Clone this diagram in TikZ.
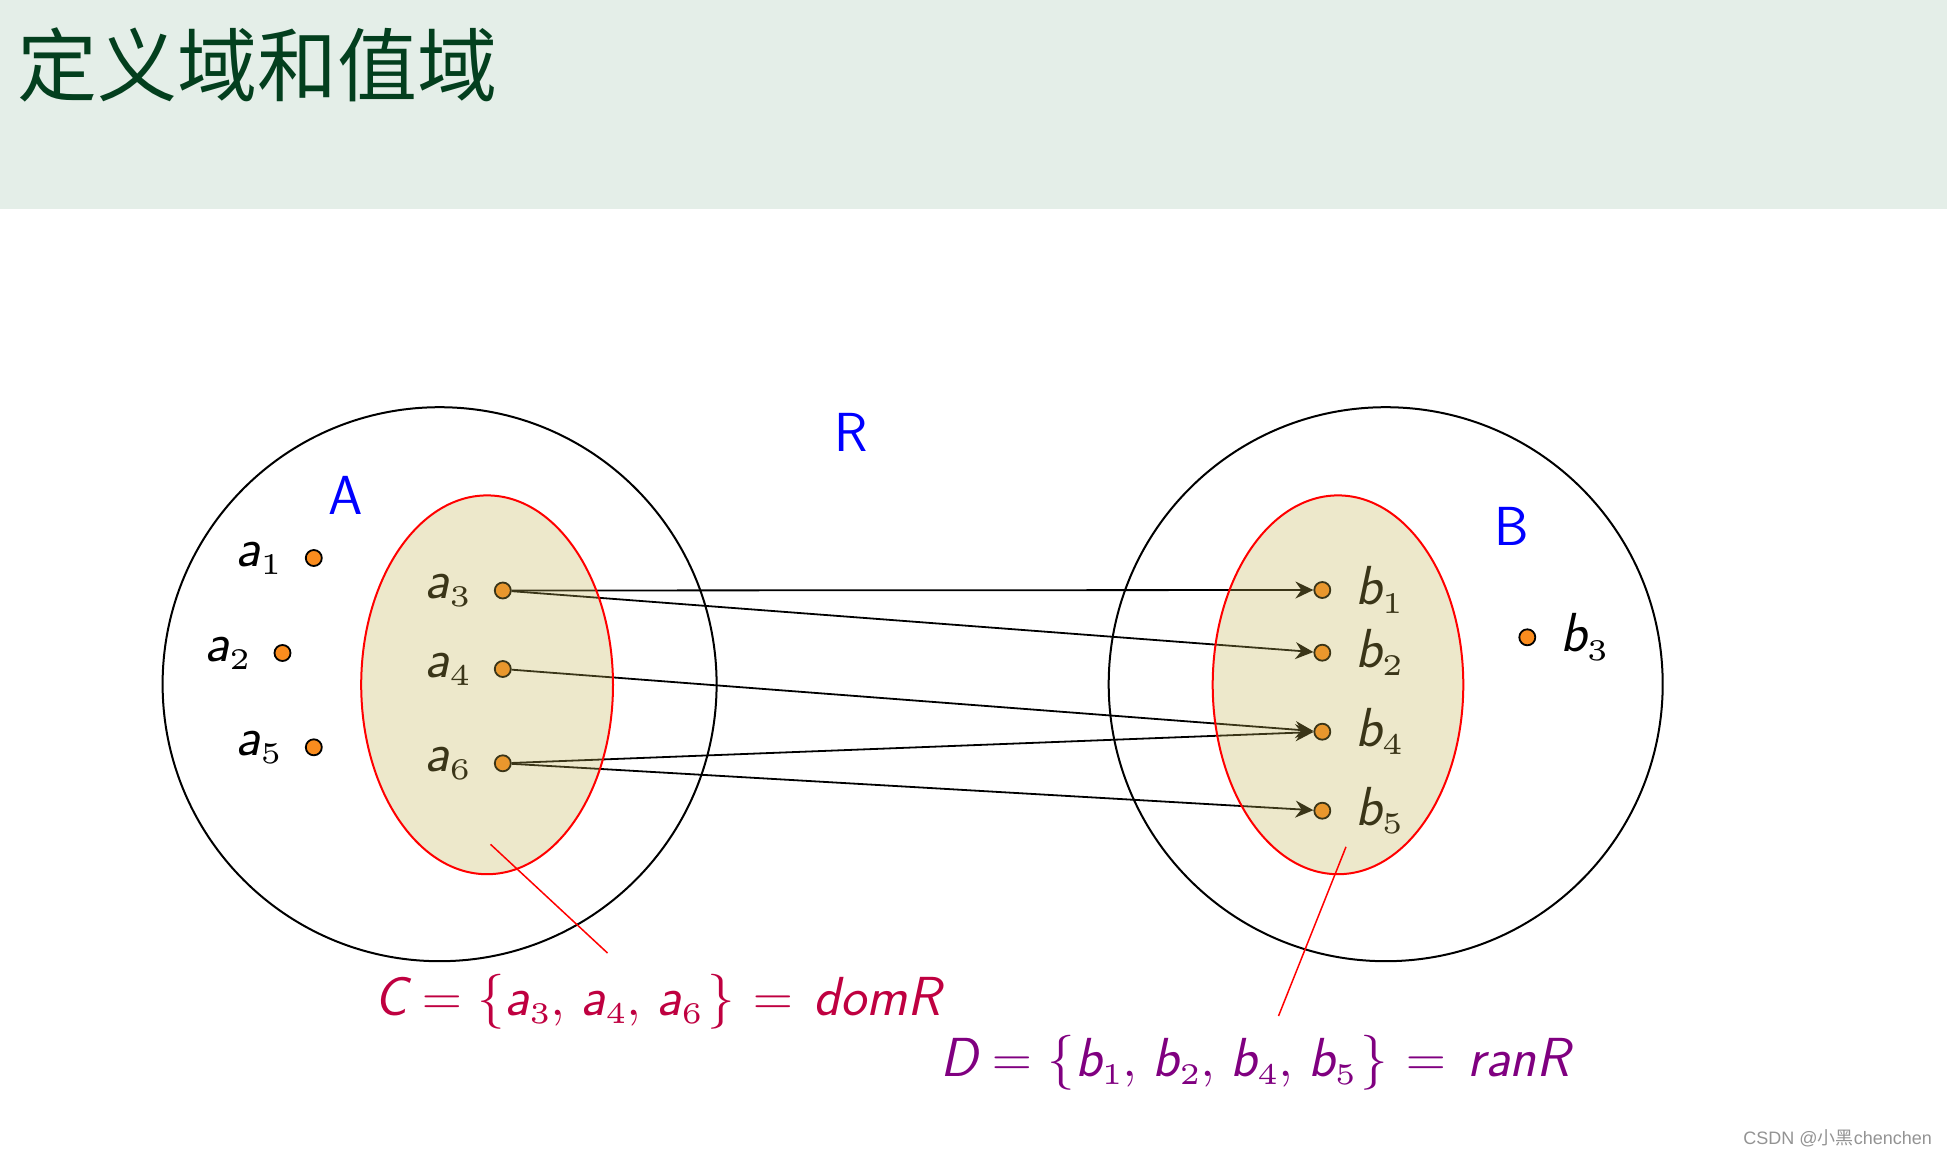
\RequirePackage{fix-cm}
\documentclass[tikz,border=0pt]{standalone}
\usepackage{fontspec}
\newfontfamily\cjk{Noto Sans CJK SC}
\newfontfamily\wmfont{Liberation Sans}
\newfontfamily\lmfive{lmroman5-regular.otf}
\usetikzlibrary{arrows.meta}
\definecolor{titlebg}{HTML}{E4EEE8}
\definecolor{titlefg}{HTML}{033F1E}
\definecolor{dotorange}{RGB}{250,140,30}
\definecolor{overlaycol}{RGB}{195,178,82}
\definecolor{cpurple}{RGB}{191,0,64}
\definecolor{dviolet}{RGB}{128,0,128}
\newcommand{\sfi}[1]{\mbox{\sffamily\itshape #1}}
\newcommand{\subn}[1]{_{\mbox{\fontsize{30}{32}\lmfive #1}}}
\newcommand{\cm}{,\mkern2mu}
\begin{document}
\begin{tikzpicture}[x=1pt,y=-1pt,
  dot/.style={circle,draw=black,line width=1.8pt,fill=dotorange,minimum size=16pt,inner sep=0pt},
  lab/.style={inner sep=0pt,font=\fontsize{55}{66}\selectfont},
  setname/.style={inner sep=0pt,text=blue,font=\fontsize{55}{66}\selectfont\sffamily},
  setline/.style={draw=black,line width=2pt},
  subset/.style={draw=red,line width=2pt,fill=overlaycol,fill opacity=0.3},
  arr/.style={line width=1.8pt,-{Stealth[length=18pt,width=17pt,inset=6pt]}},
  lead/.style={draw=red,line width=1.5pt},
]
\useasboundingbox (0,0) rectangle (1947,1159);
% title bar
\fill[titlebg] (0,0) rectangle (1947,209);
\node[anchor=west,inner sep=0pt,text=titlefg,font=\cjk\fontsize{80}{90}\selectfont] (title) at (17,65) {定义域和值域};

% big sets
\draw[setline] (439.6,684.2) circle[radius=277];
\draw[setline] (1385.7,684.2) circle[radius=277];

% set names
\node[setname] (nA) at (345.7,495.8) {A};
\node[setname] (nB) at (1511.7,526.7) {B};
\node[setname] (nR) at (851,432.5) {R};

% points of A
\node[dot] (a1) at (313.8,558) {};
\node[dot] (a2) at (282.5,653) {};
\node[dot] (a5) at (313.8,747.3) {};
\node[dot] (a3) at (502.8,590.5) {};
\node[dot] (a4) at (502.8,669) {};
\node[dot] (a6) at (502.8,763.3) {};
% points of B
\node[dot] (b1) at (1322.3,590) {};
\node[dot] (b2) at (1322.3,652.7) {};
\node[dot] (b4) at (1322.3,731.7) {};
\node[dot] (b5) at (1322.3,810.7) {};
\node[dot] (b3) at (1527.3,637.3) {};

% labels
\node[lab,anchor=east] (la1) at ([xshift=-32pt]a1.center) {$\sfi{a}\subn{1}$};
\node[lab,anchor=east] (la2) at ([xshift=-32pt]a2.center) {$\sfi{a}\subn{2}$};
\node[lab,anchor=east] (la5) at ([xshift=-32pt]a5.center) {$\sfi{a}\subn{5}$};
\node[lab,anchor=east] (la3) at ([xshift=-32pt]a3.center) {$\sfi{a}\subn{3}$};
\node[lab,anchor=east] (la4) at ([xshift=-32pt]a4.center) {$\sfi{a}\subn{4}$};
\node[lab,anchor=east] (la6) at ([xshift=-32pt]a6.center) {$\sfi{a}\subn{6}$};
\node[lab,anchor=west] (lb1) at ([xshift=33pt]b1.center) {$\sfi{b}\subn{1}$};
\node[lab,anchor=west] (lb2) at ([xshift=33pt]b2.center) {$\sfi{b}\subn{2}$};
\node[lab,anchor=west] (lb4) at ([xshift=33pt]b4.center) {$\sfi{b}\subn{4}$};
\node[lab,anchor=west] (lb5) at ([xshift=33pt]b5.center) {$\sfi{b}\subn{5}$};
\node[lab,anchor=west] (lb3) at ([xshift=33pt]b3.center) {$\sfi{b}\subn{3}$};

% relation arrows
\draw[arr] (a3) -- (b1);
\draw[arr] (a3) -- (b2);
\draw[arr] (a4) -- (b4);
\draw[arr] (a6) -- (b4);
\draw[arr] (a6) -- (b5);

% domain and range overlays
\path[subset] (487.1,684.8) ellipse[x radius=125.9,y radius=189.4];
\path[subset] (1338,684.8) ellipse[x radius=125.3,y radius=189.4];

% leader lines
\coordinate (c1) at (490.5,844.3);
\coordinate (c2) at (607.5,953);
\coordinate (d1) at (1346,846.8);
\coordinate (d2) at (1278.5,1016);
\draw[lead] (c1) -- (c2);
\draw[lead] (d1) -- (d2);

% set equations
\node[lab,anchor=base west,text=cpurple] (clab) at (374,1015)
  {$\sfi{C} = \{\sfi{a}\subn{3}\cm \sfi{a}\subn{4}\cm \sfi{a}\subn{6}\mkern1.5mu\} \mkern1mu= \mkern2mu\sfi{domR}$};
\node[lab,anchor=base west,text=dviolet] (dlab) at (940,1076.7)
  {$\sfi{D} = \{\sfi{b}\subn{1}\cm \sfi{b}\subn{2}\cm \sfi{b}\subn{4}\cm \sfi{b}\subn{5}\mkern1.5mu\} \mkern1mu= \mkern2mu\sfi{ranR}$};

% watermark
\node[anchor=east,inner sep=0pt,text=gray!85,font=\wmfont\fontsize{18}{20}\selectfont] (wm) at (1932,1138) {CSDN @{\cjk 小黑}chenchen};
\end{tikzpicture}
\end{document}
